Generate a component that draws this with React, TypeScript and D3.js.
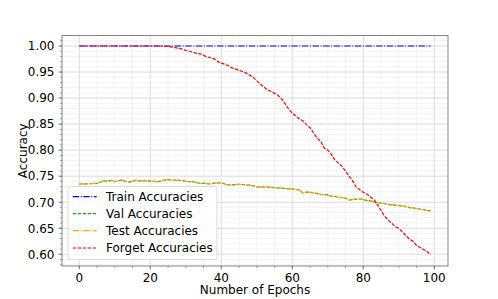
import React from "react";
import * as d3 from "d3";

const epochs: number[] = Array.from({ length: 100 }, (_, i) => i);

const trainAcc: number[] = Array.from({ length: 100 }, () => 1.0);

const testAcc: number[] = [
  0.735, 0.7355, 0.735, 0.7355, 0.7362, 0.736, 0.739, 0.741, 0.7405, 0.742,
  0.7395, 0.7415, 0.7425, 0.740, 0.738, 0.741, 0.742, 0.7405, 0.7415, 0.741,
  0.7405, 0.740, 0.739, 0.741, 0.7425, 0.7435, 0.742, 0.7425, 0.742, 0.7415,
  0.740, 0.7395, 0.739, 0.7375, 0.736, 0.7365, 0.7355, 0.735, 0.7365, 0.737,
  0.7375, 0.735, 0.733, 0.7335, 0.734, 0.7345, 0.734, 0.733, 0.733, 0.731,
  0.7295, 0.729, 0.7295, 0.7295, 0.7285, 0.728, 0.727, 0.727, 0.726, 0.7255,
  0.726, 0.724, 0.7235, 0.7175, 0.7195, 0.719, 0.718, 0.7165, 0.715, 0.7145,
  0.714, 0.711, 0.7115, 0.7095, 0.709, 0.7075, 0.7045, 0.705, 0.706, 0.706,
  0.705, 0.7035, 0.7025, 0.700, 0.699, 0.698, 0.6975, 0.6955, 0.695, 0.6945,
  0.6935, 0.693, 0.6915, 0.6895, 0.689, 0.6875, 0.687, 0.6855, 0.684, 0.683,
];

const valAcc: number[] = [
  0.735, 0.7352, 0.7352, 0.7355, 0.736, 0.736, 0.7388, 0.741, 0.7405, 0.7418,
  0.7397, 0.7415, 0.7423, 0.740, 0.7382, 0.741, 0.7418, 0.7405, 0.7413, 0.741,
  0.7405, 0.740, 0.7392, 0.741, 0.7423, 0.7433, 0.742, 0.7423, 0.742, 0.7415,
  0.740, 0.7395, 0.739, 0.7377, 0.736, 0.7365, 0.7357, 0.735, 0.7365, 0.737,
  0.7373, 0.735, 0.7332, 0.7335, 0.734, 0.7343, 0.734, 0.733, 0.733, 0.7312,
  0.7295, 0.7292, 0.7295, 0.7293, 0.7285, 0.728, 0.7272, 0.727, 0.726, 0.7257,
  0.726, 0.724, 0.7235, 0.7178, 0.7195, 0.719, 0.718, 0.7165, 0.7152, 0.7145,
  0.714, 0.7112, 0.7115, 0.7095, 0.709, 0.7077, 0.7047, 0.705, 0.706, 0.706,
  0.705, 0.7035, 0.7025, 0.7002, 0.699, 0.698, 0.6975, 0.6957, 0.695, 0.6945,
  0.6935, 0.693, 0.6915, 0.6897, 0.689, 0.6875, 0.687, 0.6857, 0.684, 0.6832,
];

const forgetAcc: number[] = [
  1.0, 1.0, 1.0, 1.0, 1.0, 1.0, 1.0, 1.0, 1.0, 1.0,
  1.0, 1.0, 1.0, 1.0, 1.0, 1.0, 1.0, 1.0, 1.0, 1.0,
  1.0, 1.0, 1.0, 1.0, 0.9995, 0.999, 0.998, 0.997, 0.9955, 0.994,
  0.9915, 0.990, 0.988, 0.986, 0.985, 0.982, 0.979, 0.978, 0.975, 0.970,
  0.967, 0.965, 0.962, 0.958, 0.956, 0.953, 0.951, 0.948, 0.944, 0.940,
  0.933, 0.927, 0.921, 0.916, 0.913, 0.909, 0.905, 0.898, 0.889, 0.879,
  0.871, 0.866, 0.860, 0.856, 0.849, 0.843, 0.833, 0.823, 0.817, 0.804,
  0.800, 0.792, 0.781, 0.775, 0.769, 0.760, 0.750, 0.741, 0.729, 0.724,
  0.719, 0.716, 0.710, 0.705, 0.695, 0.684, 0.673, 0.666, 0.660, 0.653,
  0.650, 0.643, 0.636, 0.629, 0.625, 0.617, 0.613, 0.609, 0.605, 0.599,
];

const xTicks: number[] = [0, 20, 40, 60, 80, 100];
const yTicks: number[] = [0.6, 0.65, 0.7, 0.75, 0.8, 0.85, 0.9, 0.95, 1.0];

const seriesNames: string[] = ["Train Accuracies", "Val Accuracies", "Test Accuracies", "Forget Accuracies"];
const seriesColors: string[] = ["#0000ff", "#2ca02c", "#ffa500", "#ff0000"];
const seriesDash: string[] = ["6.4,1.6,1,1.6", "3.5,1.5", "6.4,1.6,1,1.6", "3.5,1.5"];

const FONT = "'DejaVu Sans', sans-serif";

export default function App() {
  const W = 498;
  const H = 299;
  const left = 62, right = 448, top = 35.5, bottom = 266;
  const x = d3.scaleLinear().domain([0, 100]).range([79.3, 434.3]);
  const y = d3.scaleLinear().domain([0.6, 1.0]).range([254.3, 46]);

  const xMinor = d3.range(-5, 106, 5).filter((v) => x(v) >= left && x(v) <= right);
  const yMinor = d3.range(58, 102, 1).map((v) => v / 100).filter((v) => y(v) >= top && y(v) <= bottom);

  const data = [trainAcc, valAcc, testAcc, forgetAcc];
  const line = d3.line<number>().x((_, i) => x(epochs[i])).y((d) => y(d));

  const legX = 68, legY = 186.5, legW = 149, legH = 73;
  const rowY = [196.7, 213.6, 230.7, 248];

  return (
    <svg width={W} height={H} style={{ position: "absolute", left: 0, top: 0, background: "#fff" }} fontFamily={FONT}>
      <defs>
        <clipPath id="plot">
          <rect x={left} y={top} width={right - left} height={bottom - top} />
        </clipPath>
      </defs>
      {xMinor.map((v) => (
        <line key={"xm" + v} x1={x(v)} x2={x(v)} y1={top} y2={bottom} stroke="#ebebeb" strokeWidth={0.6} />
      ))}
      {yMinor.map((v) => (
        <line key={"ym" + v} x1={left} x2={right} y1={y(v)} y2={y(v)} stroke="#ebebeb" strokeWidth={0.6} />
      ))}
      {xTicks.map((v) => (
        <line key={"xg" + v} x1={x(v)} x2={x(v)} y1={top} y2={bottom} stroke="#d9d9d9" strokeWidth={0.8} />
      ))}
      {yTicks.map((v) => (
        <line key={"yg" + v} x1={left} x2={right} y1={y(v)} y2={y(v)} stroke="#d9d9d9" strokeWidth={0.8} />
      ))}
      <g clipPath="url(#plot)">
        {data.map((d, i) => (
          <path
            key={"s" + i}
            d={line(d) || ""}
            fill="none"
            stroke={seriesColors[i]}
            strokeWidth={1.2}
            strokeDasharray={seriesDash[i]}
          />
        ))}
      </g>
      <rect x={left} y={top} width={right - left} height={bottom - top} fill="none" stroke="#666" strokeWidth={0.8} />
      {xMinor.map((v) => (
        <line key={"xmt" + v} x1={x(v)} x2={x(v)} y1={bottom} y2={bottom + 2} stroke="#666" strokeWidth={0.6} />
      ))}
      {xTicks.map((v) => (
        <g key={"xt" + v}>
          <line x1={x(v)} x2={x(v)} y1={bottom} y2={bottom + 3.5} stroke="#666" strokeWidth={0.8} />
          <text x={x(v)} y={bottom + 15.5} fontSize={12} textAnchor="middle" fill="#000">
            {v}
          </text>
        </g>
      ))}
      {yMinor.map((v) => (
        <line key={"ymt" + v} x1={left} x2={left - 2} y1={y(v)} y2={y(v)} stroke="#666" strokeWidth={0.6} />
      ))}
      {yTicks.map((v) => (
        <g key={"yt" + v}>
          <line x1={left} x2={left - 3.5} y1={y(v)} y2={y(v)} stroke="#666" strokeWidth={0.8} />
          <text x={left - 7.5} y={y(v) + 4.3} fontSize={12} textAnchor="end" fill="#000">
            {d3.format(".2f")(v)}
          </text>
        </g>
      ))}
      <text x={(left + right) / 2} y={294} fontSize={12} textAnchor="middle" fill="#000">
        Number of Epochs
      </text>
      <text transform={`translate(26.5,${(top + bottom) / 2}) rotate(-90)`} fontSize={12} textAnchor="middle" fill="#000">
        Accuracy
      </text>
      <rect x={legX} y={legY} width={legW} height={legH} rx={2.5} fill="#fff" fillOpacity={0.8} stroke="#d0d0d0" strokeWidth={0.8} />
      {seriesNames.map((n, i) => (
        <g key={"lg" + i}>
          <line x1={72.7} x2={96.7} y1={rowY[i]} y2={rowY[i]} stroke={seriesColors[i]} strokeWidth={1.2} strokeDasharray={seriesDash[i]} />
          <text x={106} y={rowY[i] + 4.3} fontSize={12} fill="#000">
            {n}
          </text>
        </g>
      ))}
    </svg>
  );
}
